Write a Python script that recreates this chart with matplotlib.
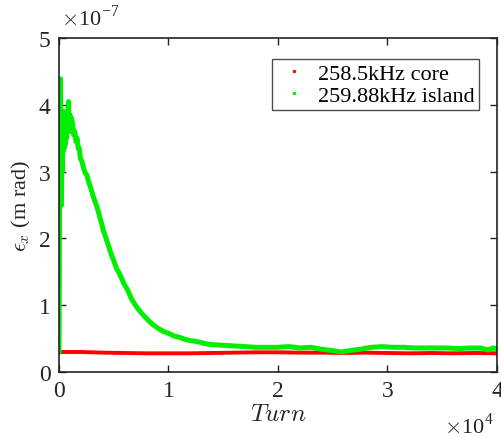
import matplotlib
matplotlib.use("Agg")
import matplotlib.pyplot as plt
import numpy as np

plt.rcParams['font.family'] = ['Liberation Serif', 'DejaVu Serif']
plt.rcParams['mathtext.fontset'] = 'cm'

# data: turns, emittance in units of 1e-7 m rad
green_turn = [0, 30, 60, 100, 130, 170, 200, 230, 270, 300, 340, 380, 420, 470, 520, 570, 620, 680,
              730, 800, 870, 930, 1000, 1080, 1150, 1250, 1350, 1450, 1550, 1650, 1750, 1850, 1950,
              2100, 2250, 2400, 2550, 2700, 2850, 3000, 3150, 3300, 3450, 3600, 3750, 3900, 4050,
              4200, 4400, 4600, 4800, 5000, 5250, 5500, 5750, 6000, 6300, 6600, 6900, 7200, 7600,
              8000, 8500, 9000, 9500, 10000, 10500, 11000, 11500, 12000, 12500, 13000, 13500, 14000,
              15000, 16000, 17000, 18000, 19000, 20000, 21000, 22000, 23000, 24000, 25000, 25800,
              26500, 27500, 28500, 29500, 30500, 31500, 32500, 33500, 34500, 35500, 36500, 37500,
              38500, 39200, 39600, 40000]
green_eps = [0.30, 1.5, 2.8, 3.6, 4.39, 3.3, 3.8, 2.5, 3.7, 3.0, 3.8, 3.3, 3.9, 3.35, 3.75, 3.4, 3.8, 3.5,
             3.65, 3.9, 4.05, 3.7, 3.85, 3.6, 3.8, 3.7, 3.55, 3.6, 3.45, 3.5, 3.35, 3.35, 3.2,
             3.15, 3.05, 2.98, 2.95, 2.85, 2.78, 2.70, 2.62, 2.55, 2.48, 2.40, 2.30, 2.22, 2.12,
             2.05, 1.95, 1.85, 1.75, 1.67, 1.55, 1.48, 1.39, 1.30, 1.22, 1.10, 1.02, 0.95, 0.87,
             0.80, 0.72, 0.66, 0.61, 0.58, 0.54, 0.52, 0.49, 0.47, 0.46, 0.44, 0.42, 0.41,
             0.40, 0.39, 0.38, 0.37, 0.37, 0.37, 0.38, 0.36, 0.37, 0.34, 0.32, 0.30,
             0.32, 0.34, 0.37, 0.38, 0.37, 0.37, 0.36, 0.36, 0.36, 0.36, 0.35, 0.36,
             0.36, 0.33, 0.36, 0.35]

red_turn = [0, 2000, 4000, 6000, 8000, 10000, 12000, 14000, 16000, 18000, 20000, 22000, 24000,
            26000, 28000, 30000, 32000, 34000, 36000, 38000, 40000]
red_eps = [0.30, 0.30, 0.29, 0.285, 0.28, 0.28, 0.28, 0.285, 0.29, 0.295, 0.295, 0.29, 0.29,
           0.285, 0.29, 0.285, 0.28, 0.285, 0.28, 0.285, 0.28]

x_ticks = [0, 1, 2, 3, 4]
y_ticks = [0, 1, 2, 3, 4, 5]

fig = plt.figure(figsize=(5.02, 4.39), dpi=100)
ax = fig.add_axes([0.1175, 0.1503, 0.8725, 0.7607])

gx = np.array(green_turn) / 1e4
rx = np.array(red_turn) / 1e4
ax.plot(rx, red_eps, color='#ff0000', lw=2.8, solid_capstyle='butt')
ax.plot(gx, green_eps, color='#00ee00', lw=3.6)
# legend proxies (dot markers)
ax.plot([], [], '.', color='#ff0000', ms=3, label='258.5kHz core')
ax.plot([], [], '.', color='#00ee00', ms=3, label='259.88kHz island')

ax.set_xlim(0, 4)
ax.set_ylim(0, 5)
ax.set_xticks(x_ticks)
ax.set_yticks(y_ticks)
ax.set_xticklabels([str(v) for v in x_ticks])
ax.set_yticklabels([str(v) for v in y_ticks])
ax.tick_params(direction='in', top=True, right=True, labelsize=17, length=5, width=1, color='#222222',
               labelcolor='#262626', pad=6)
for s in ax.spines.values():
    s.set_linewidth(1.2)
    s.set_color('#222222')

ax.set_xlabel(r'$Turn$', fontsize=18, color='#262626', labelpad=1)
ax.set_ylabel(r'$\epsilon_x$ (m rad)', fontsize=16, color='#262626', labelpad=4)

fig.text(0.122, 0.958, r'$\times$10$^{\mathregular{-7}}$', fontsize=16, color='#262626', va='center', ha='left')
fig.text(0.985, 0.028, r'$\times$10$^{\mathregular{4}}$', fontsize=16, color='#262626', va='center', ha='right')

leg = ax.legend(loc='upper right', fontsize=16, frameon=True, fancybox=False, edgecolor='#222222',
                borderpad=0.2, handlelength=1.6, handletextpad=0.3, labelspacing=0.05,
                bbox_to_anchor=(0.985, 0.97), markerscale=1.0)
leg.get_frame().set_linewidth(1.0)

fig.savefig('out.png', dpi=100)
